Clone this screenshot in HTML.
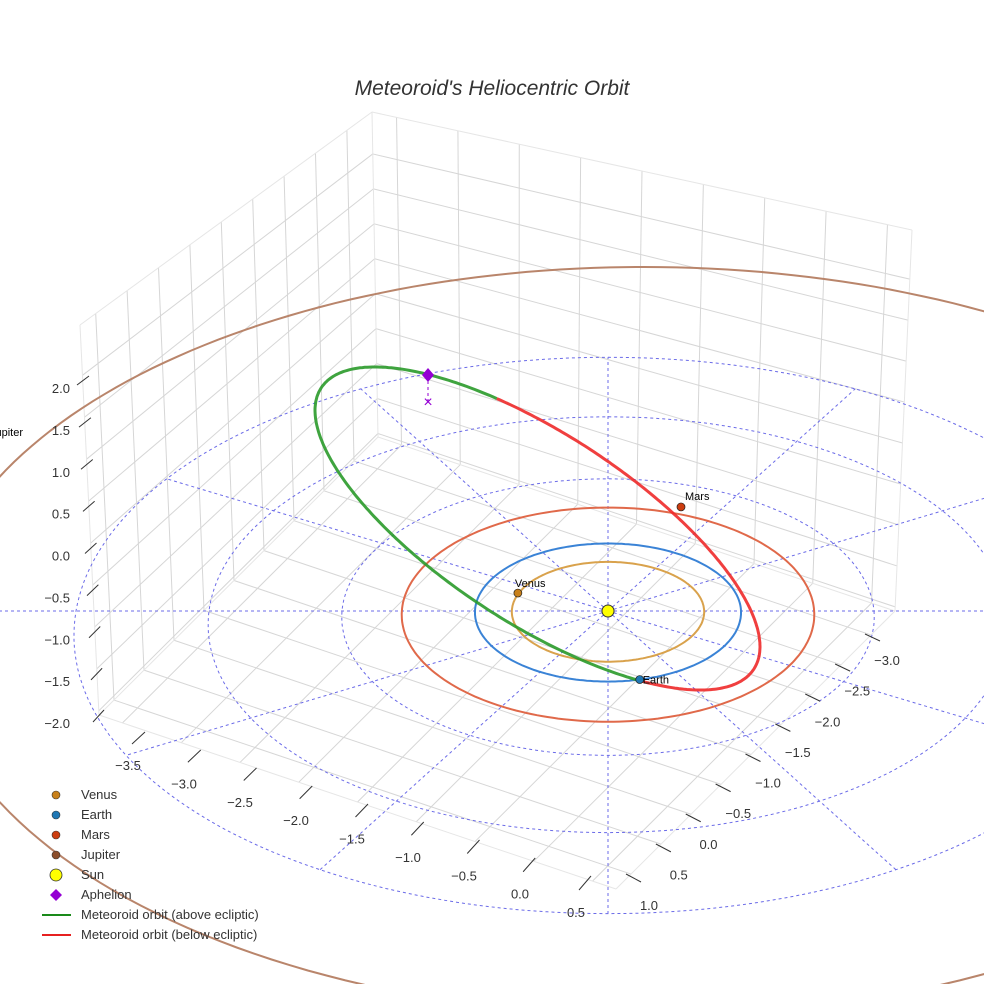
<!DOCTYPE html>
<html><head><meta charset="utf-8"><style>
html,body{margin:0;padding:0;background:#fff}
svg{display:block;font-family:"Liberation Sans",sans-serif}
</style></head><body>
<svg id="chart" width="984" height="984" viewBox="0 0 984 984" xmlns="http://www.w3.org/2000/svg">
<rect width="984" height="984" fill="#fff"/>
<text x="492" y="95" text-anchor="middle" font-size="21" font-style="italic" fill="#333">Meteoroid's Heliocentric Orbit</text>
<g id="grid"></g><g id="ecl"></g><g id="orbits"></g><g id="marks"></g><g id="axes"></g><g id="legend"></g>
</svg>
<script>
// ---- data ----
const xTicks=[-3.5,-3.0,-2.5,-2.0,-1.5,-1.0,-0.5,0.0,0.5];
const yTicks=[-3.0,-2.5,-2.0,-1.5,-1.0,-0.5,0.0,0.5,1.0];
const zTicks=[-2.0,-1.5,-1.0,-0.5,0.0,0.5,1.0,1.5,2.0];
const gridRadii=[2,3,4];
const radialAngles=[0,30,60,90,120,150,180,210,240,270,300,330];
const planetNames=["Venus","Earth","Mars","Jupiter"];
const orbitRadii=[0.723,1.0,1.55,5.4];
const orbitCenterU=[0,0,0,0.3];
const orbitCenterV=[0,0,0,-0.2];
const planetRadii=[0.73,1.0,1.66,5.2];
const planetAngles=[201,76.5,-70,200];
const orbitColors=["#d9a24c","#3a83d6","#e0694a","#b9856b"];
const planetColors=["#c8801a","#1f77b4","#cc3d10","#8b4d2a"];
const meteorCenter=[537.5,528.5];
const meteorAxes=[258,95];
const meteorTilt=[33];
const greenRange=[49,246];
const aphelionScreen=[428,375];
const aphelionProj=[428,402];

const NS="http://www.w3.org/2000/svg";
function mk(tag,attrs,parent){const e=document.createElementNS(NS,tag);for(const k in attrs)e.setAttribute(k,attrs[k]);parent.appendChild(e);return e;}
const $=id=>document.getElementById(id);

// ---- box geometry ----
const F=[616,889],L=[99,715],R=[895,611],B=[378,437],TL=[80,325],TB=[372,112],TR=[912,230];
const xmin=-3.7,xmax=0.7,ymin=-3.4,ymax=1.25,zmin=-2.05,zmax=2.6;
const lerp=(p,q,t)=>[p[0]+(q[0]-p[0])*t,p[1]+(q[1]-p[1])*t];
function floorPt(x,y){const a=(x-xmin)/(xmax-xmin),b=(ymax-y)/(ymax-ymin);return [L[0]+a*(F[0]-L[0])+b*(B[0]-L[0]),L[1]+a*(F[1]-L[1])+b*(B[1]-L[1])];}
function leftWall(y,z){const b=(ymax-y)/(ymax-ymin);const bot=floorPt(xmin,y),top=lerp(TL,TB,b);return lerp(bot,top,(z-zmin)/(zmax-zmin));}
function rightWall(x,z){const a=(x-xmin)/(xmax-xmin);const bb=lerp(B,R,a);const top=lerp(TB,TR,a);return lerp(bb,top,(z-zmin)/(zmax-zmin));}
const g=$("grid");
function line(p,q,st,par,name){const e=mk("line",{x1:p[0],y1:p[1],x2:q[0],y2:q[1],stroke:st,"stroke-width":1},par);return e;}
const gc="#d6d6d6";
xTicks.forEach(x=>{line(floorPt(x,ymin),floorPt(x,ymax),gc,g,'floor-grid-x');line(rightWall(x,zmin),rightWall(x,zmax),gc,g,'wall-grid-x');});
yTicks.forEach(y=>{line(floorPt(xmin,y),floorPt(xmax,y),gc,g,'floor-grid-y');line(leftWall(y,zmin),leftWall(y,zmax),gc,g,'wall-grid-y');});
zTicks.forEach(z=>{line(leftWall(ymax,z),leftWall(ymin,z),gc,g,'wall-grid-z');line(rightWall(xmin,z),rightWall(xmax,z),gc,g,'wall-grid-z');});
[[L,F],[F,R],[L,B],[B,R],[L,TL],[B,TB],[R,TR],[TL,TB],[TB,TR]].forEach(s=>line(s[0],s[1],"#e6e6e6",g,'box-edge'));

// ---- ecliptic projection ----
const SX=608,SY=611,KU=133,KV=69,KZ=84,CP=0.022;
function P(u,v,z){const d=1-CP*v;return [SX+KU*u/d,SY+KV*v/d-KZ*(z||0)];}
function circlePath(r,cu,cv){cu=cu||0;cv=cv||0;let s="";for(let i=0;i<=240;i++){const t=i/240*2*Math.PI;const p=P(cu+r*Math.cos(t),cv+r*Math.sin(t));s+=(i?"L":"M")+p[0].toFixed(1)+" "+p[1].toFixed(1);}return s+"Z";}
const ec=$("ecl");
gridRadii.forEach(r=>{const e=mk("path",{d:circlePath(r),fill:"none",stroke:"#6b6be8","stroke-width":1,"stroke-dasharray":"3,3"},ec);});
radialAngles.forEach(a=>{const t=a*Math.PI/180;const rr=(a%180===0)?7:4;const p=P(rr*Math.cos(t),rr*Math.sin(t));line([SX,SY],p,"#6b6be8",ec,'ecliptic-radial').setAttribute("stroke-dasharray","3,3");});

// ---- planet orbits ----
const ob=$("orbits");
orbitRadii.forEach((r,i)=>{const e=mk("path",{d:circlePath(r,orbitCenterU[i],orbitCenterV[i]),fill:"none",stroke:orbitColors[i],"stroke-width":2},ob);});

// meteoroid orbit
function mPt(deg){const t=deg*Math.PI/180,th=meteorTilt[0]*Math.PI/180;const u=meteorAxes[0]*Math.cos(t),v=meteorAxes[1]*Math.sin(t);return [meteorCenter[0]+u*Math.cos(th)-v*Math.sin(th),meteorCenter[1]+u*Math.sin(th)+v*Math.cos(th)];}
function arc(a0,a1){let s="";const n=200;for(let i=0;i<=n;i++){const p=mPt(a0+(a1-a0)*i/n);s+=(i?"L":"M")+p[0].toFixed(1)+" "+p[1].toFixed(1);}return s;}
const gr=mk("path",{d:arc(greenRange[0],greenRange[1]),fill:"none",stroke:"#2a9a2a","stroke-width":3,"stroke-opacity":0.9},ob);


const rd=mk("path",{d:arc(greenRange[1],greenRange[0]+360),fill:"none",stroke:"#ee2a2a","stroke-width":3,"stroke-opacity":0.9},ob);



// ---- markers ----
const mg=$("marks");
planetNames.forEach((n,i)=>{const t=planetAngles[i]*Math.PI/180;const p=P(planetRadii[i]*Math.cos(t),planetRadii[i]*Math.sin(t));
 const c=mk("circle",{cx:p[0],cy:p[1],r:4,fill:planetColors[i],stroke:"#222","stroke-width":0.7},mg);
 
 
 const tx=mk("text",{x:p[0]-3,y:p[1]-6,"font-size":11,fill:"#000"},mg);tx.textContent=n;
 if(n==="Earth"){tx.setAttribute("x",p[0]+3);tx.setAttribute("y",p[1]+4);}
 if(n==="Mars"){tx.setAttribute("x",p[0]+4);tx.setAttribute("y",p[1]-7);}
 if(n==="Jupiter"){tx.setAttribute("x",-10);tx.setAttribute("y",436);}
 
 });
const sun=mk("circle",{cx:SX,cy:SY,r:6,fill:"#ffff00",stroke:"#333","stroke-width":1},mg);


line(aphelionScreen,aphelionProj,"#9400d3",mg,'aphelion-drop-line').setAttribute("stroke-dasharray","3,3");
const ax=mk("text",{x:aphelionProj[0],y:aphelionProj[1]+5,"font-size":16,fill:"#9400d3","text-anchor":"middle"},mg);ax.textContent="×";


const ap=mk("path",{d:`M${aphelionScreen[0]} ${aphelionScreen[1]-7}l6 7l-6 7l-6 -7z`,fill:"#9400d3"},mg);



// ---- axes ticks & labels ----
const axg=$("axes");
function tl(arr,i){return (arr[i]-arr[0])/(arr[arr.length-1]-arr[0]);}
function lab(p,txt,anchor,name){const t=mk("text",{x:p[0],y:p[1]+4,"font-size":13,fill:"#333","text-anchor":anchor},axg);t.textContent=txt.replace("-","\u2212");}
xTicks.forEach((x,i)=>{const t=tl(xTicks,i);line(lerp([132,744],[579,890],t),lerp([145,732],[591,876],t),"#333",axg,'x-tick');lab(lerp([128,766],[576,913],t),x.toFixed(1),"middle",'x-tick-label');});
yTicks.forEach((y,i)=>{const t=tl(yTicks,i);line(lerp([865,634],[626,874],t),lerp([880,641],[641,882],t),"#333",axg,'y-tick');lab(lerp([887,661],[649,906],t),y.toFixed(1),"middle",'y-tick-label');});
zTicks.forEach((z,i)=>{const t=tl(zTicks,i);line(lerp([93,722],[77,385],t),lerp([104,710],[89,376],t),"#333",axg,'z-tick');lab(lerp([70,724],[70,389],t),z.toFixed(1),"end",'z-tick-label');});

// ---- legend ----
const lg=$("legend");
const legendLabels=["Venus","Earth","Mars","Jupiter","Sun","Aphelion","Meteoroid orbit (above ecliptic)","Meteoroid orbit (below ecliptic)"];
legendLabels.forEach((n,i)=>{const y=795+i*20;const row=mk("g",{},lg);
 
 
 if(i<4)mk("circle",{cx:56,cy:y,r:4,fill:planetColors[i],stroke:"#333","stroke-width":0.6},row);
 else if(i===4)mk("circle",{cx:56,cy:y,r:6,fill:"#ffff00",stroke:"#333","stroke-width":0.8},row);
 else if(i===5)mk("path",{d:`M56 ${y-6}l6 6l-6 6l-6 -6z`,fill:"#9400d3"},row);
 else mk("line",{x1:42,y1:y,x2:71,y2:y,stroke:i===6?"#1a8a1a":"#e62020","stroke-width":2},row);
 const t=mk("text",{x:81,y:y+4,"font-size":13,fill:"#333"},row);t.textContent=n;});
</script>
</body></html>
